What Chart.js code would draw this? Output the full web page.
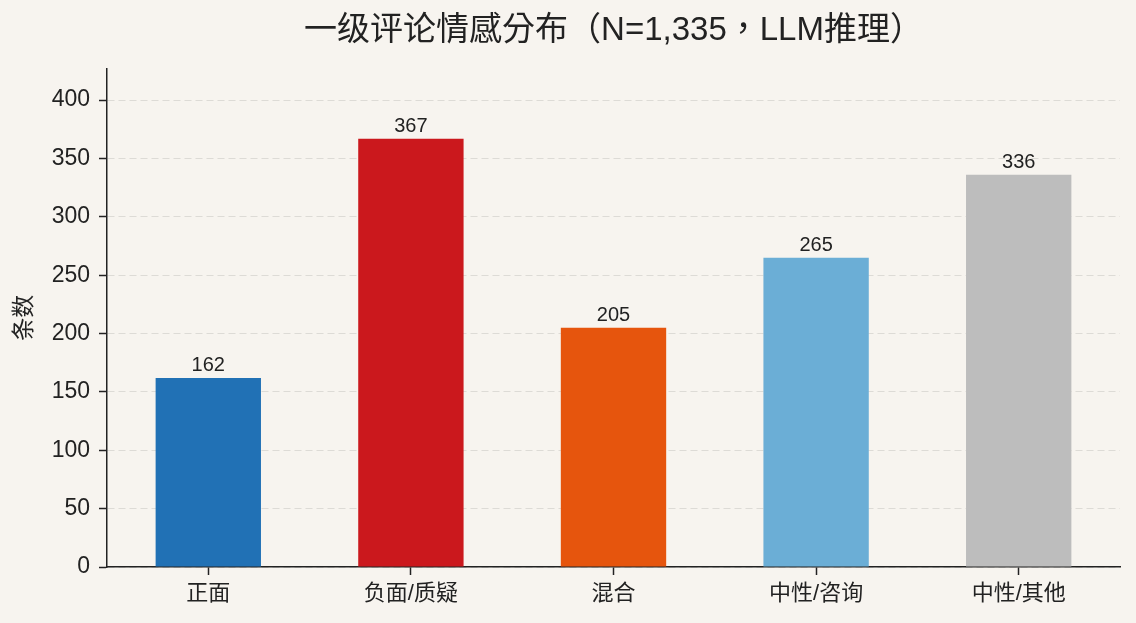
<!DOCTYPE html>
<html>
<head>
<meta charset="utf-8">
<script src="https://cdn.jsdelivr.net/npm/chart.js@4"></script>
<style>
  html, body { margin: 0; padding: 0; background: #f7f4ef; }
  #wrap { width: 1136px; height: 623px; }
</style>
</head>
<body>
<div id="wrap"><canvas id="chartCanvas"></canvas></div>
<script>
const categories = ['正面', '负面/质疑', '混合', '中性/咨询', '中性/其他'];
const counts = [162, 367, 205, 265, 336];
const barColors = ['#2171b5', '#cb181d', '#e6550d', '#6baed6', '#bdbdbd'];
const yTicks = [0, 50, 100, 150, 200, 250, 300, 350, 400];

const FONT = '"Liberation Sans", Arial, "Noto Sans CJK SC", sans-serif';
const TITLE_FONT = '"Liberation Sans", Arial, "Noto Sans CJK TC", sans-serif';
const INK = '#222222';

// value labels above each bar
const valueLabels = {
  id: 'valueLabels',
  afterDatasetsDraw(chart) {
    const ctx = chart.ctx;
    const meta = chart.getDatasetMeta(0);
    ctx.save();
    ctx.font = '20px ' + FONT;
    ctx.fillStyle = INK;
    ctx.textAlign = 'center';
    ctx.textBaseline = 'alphabetic';
    meta.data.forEach((bar, i) => {
      ctx.fillText(String(counts[i]), bar.x, bar.y - 7);
    });
    ctx.restore();
  }
};

new Chart(document.getElementById('chartCanvas'), {
  type: 'bar',
  data: {
    labels: categories,
    datasets: [{
      data: counts,
      backgroundColor: barColors,
      borderWidth: 0,
      barPercentage: 0.52,
      categoryPercentage: 1.0
    }]
  },
  options: {
    responsive: true,
    maintainAspectRatio: false,
    animation: false,
    layout: { padding: { left: 0, right: 16, top: 0, bottom: 0 } },
    plugins: {
      legend: { display: false },
      tooltip: { enabled: false },
      title: {
        display: true,
        fullSize: false,
        text: '一级评论情感分布（N=1,335，LLM推理）',
        color: INK,
        font: { family: TITLE_FONT, size: 33, weight: 'normal' },
        padding: { top: 11, bottom: 18 }
      }
    },
    scales: {
      x: {
        afterFit(axis) { axis.height = 56; },
        border: { color: INK, width: 1.5 },
        grid: { offset: false, drawOnChartArea: false, tickColor: INK, tickLength: 8, tickWidth: 1.5 },
        ticks: { color: INK, font: { family: FONT, size: 22 }, padding: 6 }
      },
      y: {
        min: 0,
        max: 427,
        afterBuildTicks(axis) {
          axis.ticks = yTicks.map(v => ({ value: v }));
        },
        afterFit(axis) { axis.width = 107; },
        border: { color: INK, width: 1.5, dash: [7, 4] },
        grid: {
          color: 'rgba(0,0,0,0.1)',
          tickColor: INK,
          tickLength: 8,
          tickWidth: 1.5,
          tickBorderDash: []
        },
        ticks: { color: INK, font: { family: FONT, size: 23 }, padding: 9 },
        title: {
          display: true,
          text: '条数',
          color: INK,
          font: { family: FONT, size: 23 },
          padding: { top: 11, bottom: 0 }
        }
      }
    }
  },
  plugins: [valueLabels]
});
</script>
</body>
</html>
